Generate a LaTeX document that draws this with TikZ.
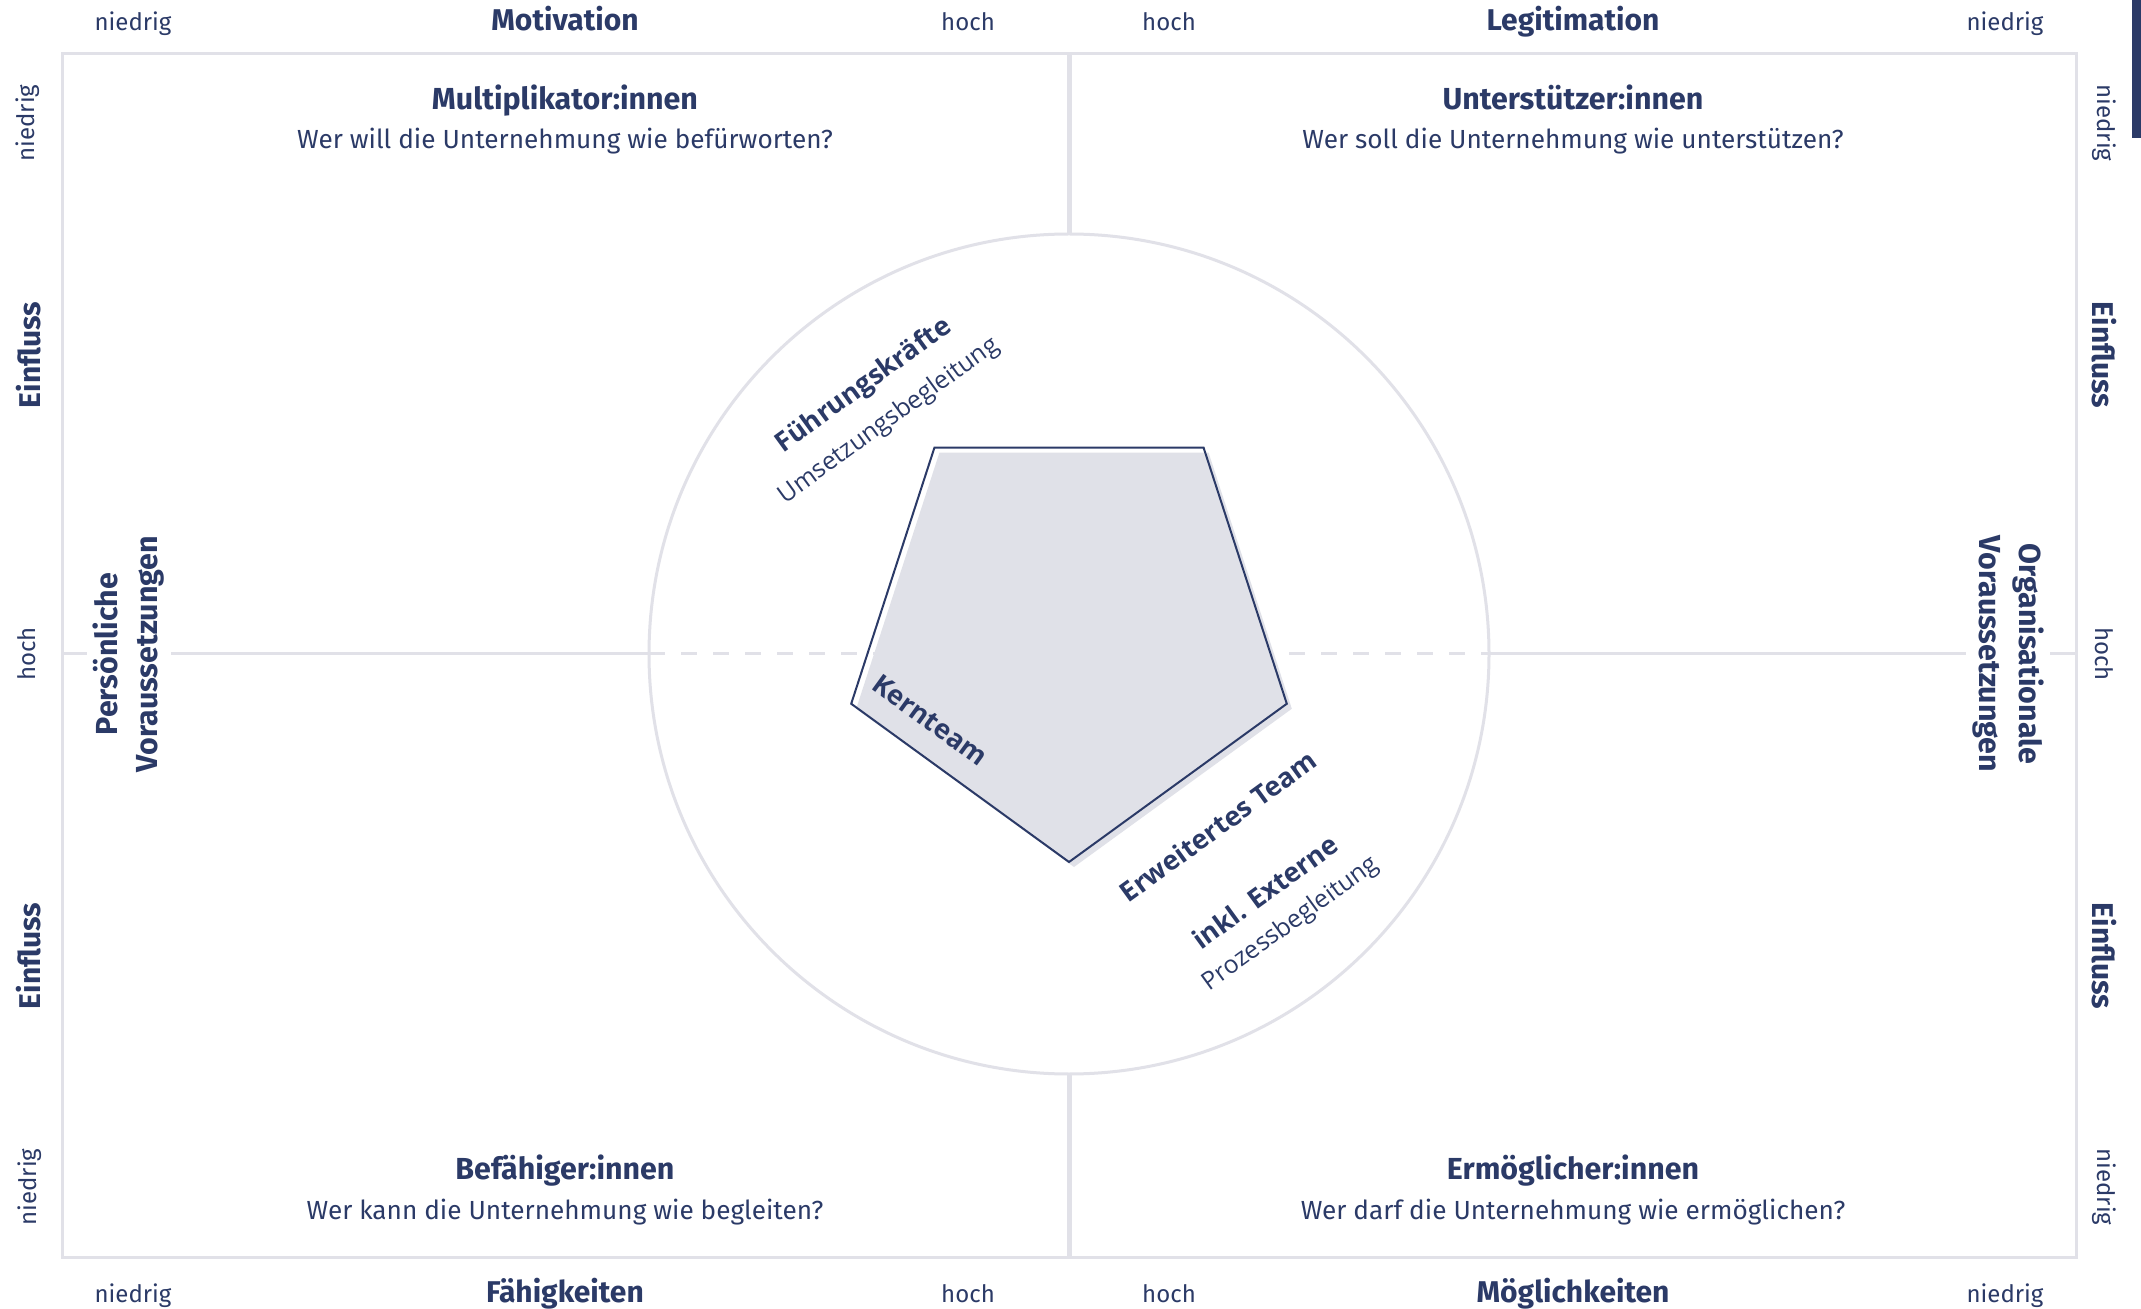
\documentclass[tikz,border=0pt]{standalone}
\usepackage{fontspec}
\setmainfont{Fira Sans}
\newfontfamily\teamfont{Open Sans}
\usetikzlibrary{shapes.geometric}
\definecolor{navy}{HTML}{2B3A67}
\definecolor{rule}{HTML}{E1E1E8}
\definecolor{shade}{HTML}{E0E1E8}

\begin{document}
\begin{tikzpicture}
[ x=0.5pt, y=-0.5pt, text=navy, inner sep=0pt
, level/.style={text height=1.5ex, text depth=0.4ex}
, axis/.style={font=\fontsize{12}{14}\selectfont}
, axistitle/.style={font=\fontsize{15}{17}\selectfont\bfseries}
, quadtitle/.style={level, font=\fontsize{15.2}{17}\selectfont\bfseries}
, question/.style={level, font=\fontsize{13.1}{15}\selectfont}
, side/.style={align=center, font=\fontsize{15.2}{20}\selectfont\bfseries, fill=white, inner sep=3pt}
, team/.style={font=\teamfont\fontsize{13.5}{15}\selectfont\bfseries}
, teamsub/.style={font=\teamfont\fontsize{12.4}{14}\selectfont}
, pentagon/.style={regular polygon, regular polygon sides=5, shape border rotate=180, minimum size=229pt, inner sep=0pt, outer sep=0pt}
, rulethin/.style={draw=rule, line width=1.5pt}
, rulethick/.style={draw=rule, line width=2.5pt}
]
\useasboundingbox[fill=white] (0,0) rectangle (2141,1309);
\fill[navy] (2132,0) rectangle (2141,138);

% Frame and axes:
\coordinate (nw) at (62,54);
\coordinate (se) at (2076,1257);
\draw [rulethin] (nw) rectangle (se);
\node (ring) [circle, rulethin, minimum size=420pt, outer sep=0pt] at (1069,654) {};
\draw [rulethick] (ring.north) -- (ring.north |- nw);
\draw [rulethick] (ring.south) -- (ring.south |- se);
\draw [rulethin] (ring.west) -- (ring.west -| nw);
\draw [rulethin] (ring.east) -- (ring.east -| se);
\draw [rulethin, dash pattern=on 8pt off 8pt] (ring.west) -- (ring.east);

% Pentagon:
\node (kernshade) [pentagon, fill=shade] at (1074,638) {};
\node (kern) [pentagon, draw=navy, line width=1pt] at (1069,633) {};

% Top row:
\node (tnied1) [axis, level] at (133,25) {niedrig};
\node (motiv) [axistitle, level] at (565,25) {Motivation};
\node (thoch1) [axis, level] at (968,25) {hoch};
\node (thoch2) [axis, level] at (1169,25) {hoch};
\node (legit) [axistitle, level] at (1573,25) {Legitimation};
\node (tnied2) [axis, level] at (2005,25) {niedrig};
% Bottom row:
\node (bnied1) [axis, level] at (133,1297) {niedrig};
\node (faehig) [axistitle, level] at (565,1297) {Fähigkeiten};
\node (bhoch1) [axis, level] at (968,1297) {hoch};
\node (bhoch2) [axis, level] at (1169,1297) {hoch};
\node (moegl) [axistitle, level] at (1573,1297) {Möglichkeiten};
\node (bnied2) [axis, level] at (2005,1297) {niedrig};

% Left column:
\node (lnied1) [axis, rotate=90] at (28,123) {niedrig};
\node (leinf1) [axistitle, rotate=90] at (29,355) {Einfluss};
\node (lhoch) [axis, rotate=90] at (27,654) {hoch};
\node (leinf2) [axistitle, rotate=90] at (29,956) {Einfluss};
\node (lnied2) [axis, rotate=90] at (30,1187) {niedrig};
\node (persoen) [side, rotate=90] at (129,654) {Persönliche\\Voraussetzungen};
% Right column:
\node (rnied1) [axis, rotate=-90] at (2104,123) {niedrig};
\node (reinf1) [axistitle, rotate=-90] at (2104,355) {Einfluss};
\node (rhoch) [axis, rotate=-90] at (2104,654) {hoch};
\node (reinf2) [axistitle, rotate=-90] at (2104,956) {Einfluss};
\node (rnied2) [axis, rotate=-90] at (2104,1187) {niedrig};
\node (organ) [side, rotate=-90] at (2008,654) {Organisationale\\Voraussetzungen};

% Quadrants:
\node (multi) [quadtitle] at (565,104) {Multiplikator:innen};
\node (multiq) [question] at (565,143) {Wer will die Unternehmung wie befürworten?};
\node (unter) [quadtitle] at (1573,104) {Unterstützer:innen};
\node (unterq) [question] at (1573,143) {Wer soll die Unternehmung wie unterstützen?};
\node (befae) [quadtitle] at (565,1174) {Befähiger:innen};
\node (befaeq) [question] at (565,1214) {Wer kann die Unternehmung wie begleiten?};
\node (ermoe) [quadtitle] at (1573,1174) {Ermöglicher:innen};
\node (ermoeq) [question] at (1573,1214) {Wer darf die Unternehmung wie ermöglichen?};

% Team labels:
\node (fuehr) [team, rotate=36] at (864,386) {Führungskräfte};
\node (umsetz) [teamsub, rotate=36] at (889,421) {Umsetzungsbegleitung};
\node (kernlbl) [team, rotate=-36] at (930,720) {Kernteam};
\node (erweit) [team, rotate=36] at (1218,826) {Erweitertes Team};
\node (extern) [team, rotate=36] at (1265,892) {inkl. Externe};
\node (prozess) [teamsub, rotate=36] at (1291,924) {Prozessbegleitung};
\end{tikzpicture}
\end{document}
